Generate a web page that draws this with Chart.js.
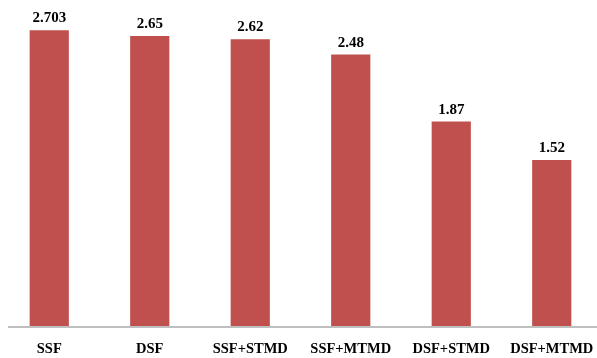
<!DOCTYPE html>
<html>
<head>
<meta charset="utf-8">
<script src="https://cdn.jsdelivr.net/npm/chart.js@4/dist/chart.umd.min.js"></script>
<style>
  html, body { margin: 0; padding: 0; background: #fff; overflow: hidden; }
  #c { position: absolute; left: -1px; top: 0; }
</style>
</head>
<body>
<canvas id="c" width="603" height="358"></canvas>
<script>
const categories = ['SSF', 'DSF', 'SSF+STMD', 'SSF+MTMD', 'DSF+STMD', 'DSF+MTMD'];
const values = [2.703, 2.65, 2.62, 2.48, 1.87, 1.52];
const valueLabels = ['2.703', '2.65', '2.62', '2.48', '1.87', '1.52'];

const serifBold = { family: '"Liberation Serif", "Times New Roman", serif', size: 14.5, weight: 'bold' };

// Value text above each bar
const barValues = {
  id: 'barValues',
  afterDatasetsDraw(chart) {
    const ctx = chart.ctx;
    const meta = chart.getDatasetMeta(0);
    ctx.save();
    ctx.font = 'bold 15px "Liberation Serif", "Times New Roman", serif';
    ctx.fillStyle = '#000';
    ctx.textAlign = 'center';
    ctx.textBaseline = 'alphabetic';
    meta.data.forEach((bar, i) => {
      ctx.fillText(valueLabels[i], bar.x, bar.y - 8);
    });
    ctx.restore();
  }
};

// Baseline under the bars
const baseLine = {
  id: 'baseLine',
  afterDatasetsDraw(chart) {
    const ctx = chart.ctx;
    const y = chart.scales.y.getPixelForValue(0);
    ctx.save();
    ctx.strokeStyle = '#BFBFBF';
    ctx.lineWidth = 2;
    ctx.beginPath();
    ctx.moveTo(9, y);
    ctx.lineTo(chart.width, y);
    ctx.stroke();
    ctx.restore();
  }
};

new Chart(document.getElementById('c'), {
  type: 'bar',
  data: {
    labels: categories,
    datasets: [{
      data: values,
      backgroundColor: '#C0504D',
      borderWidth: 0,
      barPercentage: 0.39,
      categoryPercentage: 1.0
    }]
  },
  options: {
    responsive: false,
    animation: false,
    devicePixelRatio: 1,
    layout: { padding: { top: 3, left: 0, right: 0, bottom: 0 } },
    plugins: { legend: { display: false }, tooltip: { enabled: false } },
    scales: {
      x: {
        grid: { display: false, drawTicks: false },
        border: { display: false },
        ticks: { color: '#000', font: serifBold, padding: 14, maxRotation: 0, autoSkip: false },
        afterFit(scale) {
          scale.height = 31;
          scale.paddingLeft = 0;
          scale.paddingRight = 0;
        }
      },
      y: { display: false, min: 0, max: 2.95 }
    }
  },
  plugins: [barValues, baseLine]
});
</script>
</body>
</html>
